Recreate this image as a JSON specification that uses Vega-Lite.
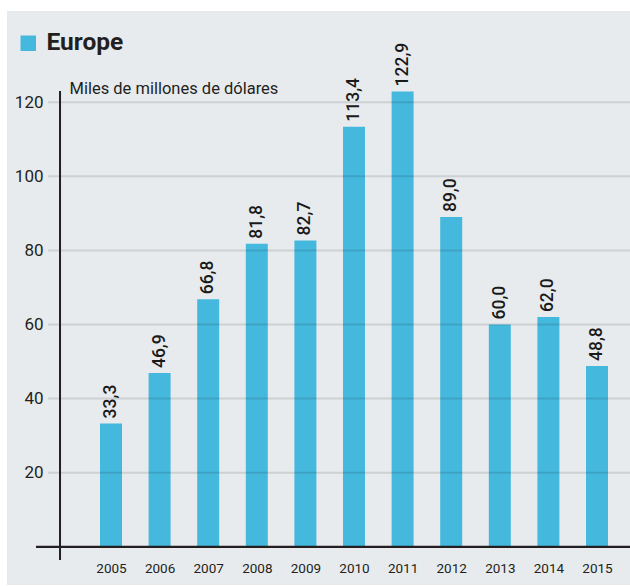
{
  "$schema": "https://vega.github.io/schema/vega-lite/v6.json",
  "width": 623,
  "height": 574,
  "autosize": {"type": "none"},
  "padding": {"left": 7, "top": 11, "right": 0, "bottom": 1},
  "background": "#ffffff",
  "config": {
    "view": {"stroke": null, "fill": "#e8ebee"},
    "font": "Roboto",
    "locale": {"number": {"decimal": ",", "thousands": ".", "grouping": [3], "currency": ["", " €"]}}
  },
  "datasets": {
    "bars": [
      {"year": 2005, "value": 33.3, "region": "Europe"},
      {"year": 2006, "value": 46.9, "region": "Europe"},
      {"year": 2007, "value": 66.8, "region": "Europe"},
      {"year": 2008, "value": 81.8, "region": "Europe"},
      {"year": 2009, "value": 82.7, "region": "Europe"},
      {"year": 2010, "value": 113.4, "region": "Europe"},
      {"year": 2011, "value": 122.9, "region": "Europe"},
      {"year": 2012, "value": 89.0, "region": "Europe"},
      {"year": 2013, "value": 60.0, "region": "Europe"},
      {"year": 2014, "value": 62.0, "region": "Europe"},
      {"year": 2015, "value": 48.8, "region": "Europe"}
    ],
    "grid": [{"g": 20}, {"g": 40}, {"g": 60}, {"g": 80}, {"g": 100}, {"g": 120}]
  },
  "layer": [
    {
      "data": {"name": "bars"},
      "mark": {"type": "bar", "size": 22},
      "encoding": {
        "x": {
          "field": "year", "type": "quantitative",
          "scale": {"domain": [2002.86, 2015.679], "nice": false, "zero": false, "padding": 0},
          "axis": {
            "orient": "bottom", "offset": -37.4, "domain": false, "ticks": false, "grid": false,
            "values": [2005, 2006, 2007, 2008, 2009, 2010, 2011, 2012, 2013, 2014, 2015],
            "format": "d", "labelFontSize": 13.5, "labelColor": "#231f20", "labelPadding": 14,
            "labelBaseline": "top", "title": null
          }
        },
        "y": {
          "field": "value", "type": "quantitative",
          "scale": {"domain": [-10.31, 144.61], "nice": false, "zero": false},
          "axis": {
            "orient": "left", "offset": -53, "domain": false, "ticks": false, "grid": false,
            "values": [20, 40, 60, 80, 100, 120],
            "labelFontSize": 17, "labelColor": "#231f20", "labelPadding": 17,
            "title": "Miles de millones de dólares", "titleAngle": 0, "titleX": 9, "titleY": 82,
            "titleAlign": "left", "titleBaseline": "alphabetic", "titleFontSize": 16.5,
            "titleFontWeight": "normal", "titleColor": "#231f20"
          }
        },
        "y2": {"datum": 0},
        "color": {
          "field": "region", "type": "nominal",
          "scale": {"range": ["#45b8de"]},
          "legend": {
            "orient": "none", "legendX": 9, "legendY": 20, "title": null, "padding": 0,
            "symbolType": "square", "symbolSize": 240, "symbolStrokeWidth": 0, "symbolOpacity": 1,
            "labelFontSize": 24.5, "labelFontWeight": "bold", "labelColor": "#231f20", "labelOffset": 6
          }
        }
      }
    },
    {
      "data": {"name": "bars"},
      "mark": {"type": "text", "angle": 270, "align": "left", "baseline": "middle", "dx": 5, "fontSize": 17.5, "fontWeight": 500, "color": "#1a1a1a"},
      "encoding": {
        "x": {"field": "year", "type": "quantitative"},
        "y": {"field": "value", "type": "quantitative"},
        "text": {"field": "value", "type": "quantitative", "format": ".1f"}
      }
    },
    {
      "data": {"name": "grid"},
      "mark": {"type": "rule", "color": "#000000", "opacity": 0.11, "strokeWidth": 2},
      "encoding": {
        "y": {"field": "g", "type": "quantitative"},
        "x": {"datum": 2003.704},
        "x2": {"datum": 2015.679}
      }
    },
    {
      "data": {"values": [{}]},
      "mark": {"type": "rule", "color": "#231f20", "strokeWidth": 2},
      "encoding": {
        "x": {"datum": 2003.951},
        "y": {"datum": -3.56},
        "y2": {"datum": 123.0}
      }
    },
    {
      "data": {"values": [{}]},
      "mark": {"type": "rule", "color": "#231f20", "strokeWidth": 2.2},
      "encoding": {
        "y": {"datum": 0},
        "x": {"datum": 2003.457},
        "x2": {"datum": 2015.679}
      }
    }
  ]
}
